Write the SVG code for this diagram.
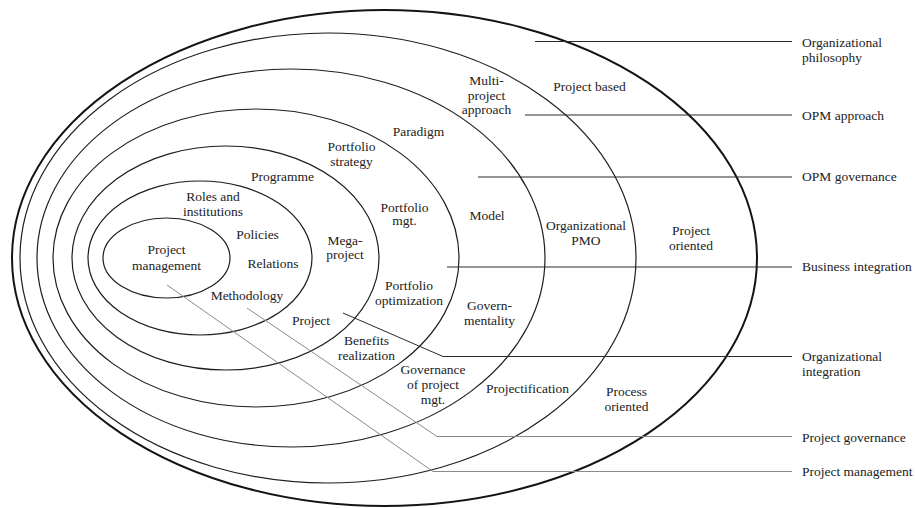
<svg xmlns="http://www.w3.org/2000/svg" width="915" height="508" viewBox="0 0 915 508">
  <style>
    .ring { fill: none; stroke: #1e1e1e; stroke-width: 1.2; }
    .ring-outer { fill: none; stroke: #141414; stroke-width: 2; }
    text { font-family: "Liberation Serif", "Times New Roman", serif; font-size: 13.5px; fill: #222; }
    .c { text-anchor: middle; }
    .lead { fill: none; stroke: #2a2a2a; stroke-width: 1; }
    .lead-light { fill: none; stroke: #8a8a8a; stroke-width: 1; }
  </style>
  <rect width="915" height="508" fill="#ffffff"/>

  <!-- Outermost ring: organizational philosophy -->
  <g id="ring-philosophy">
    <ellipse class="ring-outer" cx="384.5" cy="258" rx="372.5" ry="248"/>
    <text class="c" x="589.5" y="91">Project based</text>
    <text class="c" x="691" y="235">Project</text>
    <text class="c" x="691" y="250">oriented</text>
    <text class="c" x="626.5" y="396">Process</text>
    <text class="c" x="626.5" y="411">oriented</text>
  </g>

  <!-- OPM approach ring -->
  <g id="ring-opm-approach">
    <ellipse class="ring" cx="328" cy="258" rx="308" ry="225"/>
    <text class="c" x="486.5" y="85">Multi-</text>
    <text class="c" x="486.5" y="99.5">project</text>
    <text class="c" x="486.5" y="114">approach</text>
    <text class="c" x="586" y="229.5">Organizational</text>
    <text class="c" x="586" y="245">PMO</text>
    <text class="c" x="527.5" y="392.5">Projectification</text>
  </g>

  <!-- OPM governance ring -->
  <g id="ring-opm-governance">
    <ellipse class="ring" cx="291" cy="258" rx="254" ry="189"/>
    <text class="c" x="418.5" y="136">Paradigm</text>
    <text class="c" x="487" y="219.5">Model</text>
    <text class="c" x="489.5" y="309.5">Govern-</text>
    <text class="c" x="489.5" y="325">mentality</text>
  </g>

  <!-- Business integration ring -->
  <g id="ring-business-integration">
    <ellipse class="ring" cx="256" cy="258" rx="203" ry="149"/>
    <text class="c" x="351.5" y="151">Portfolio</text>
    <text class="c" x="351.5" y="166">strategy</text>
    <text class="c" x="404.5" y="211.5">Portfolio</text>
    <text class="c" x="404.5" y="225">mgt.</text>
    <text class="c" x="409" y="290">Portfolio</text>
    <text class="c" x="409" y="305">optimization</text>
    <text class="c" x="433" y="373.5">Governance</text>
    <text class="c" x="433" y="389">of project</text>
    <text class="c" x="433" y="403.5">mgt.</text>
  </g>

  <!-- Organizational integration ring -->
  <g id="ring-organizational-integration">
    <ellipse class="ring" cx="225.5" cy="258" rx="153.5" ry="112"/>
    <text class="c" x="282.5" y="180.5">Programme</text>
    <text class="c" x="345" y="244.5">Mega-</text>
    <text class="c" x="345" y="259">project</text>
    <text class="c" x="311" y="325">Project</text>
    <text class="c" x="366.5" y="345">Benefits</text>
    <text class="c" x="366.5" y="360">realization</text>
  </g>

  <!-- Project governance ring -->
  <g id="ring-project-governance">
    <ellipse class="ring" cx="200" cy="258" rx="112" ry="77"/>
    <text class="c" x="213" y="200.5">Roles and</text>
    <text class="c" x="213" y="216">institutions</text>
    <text class="c" x="257.5" y="239">Policies</text>
    <text class="c" x="273" y="267.5">Relations</text>
    <text class="c" x="247" y="300">Methodology</text>
  </g>

  <!-- Core: project management -->
  <g id="ring-project-management">
    <ellipse class="ring" cx="166.5" cy="258" rx="63.5" ry="40"/>
    <text class="c" x="166.5" y="254">Project</text>
    <text class="c" x="166.5" y="270">management</text>
  </g>

  <!-- Leader lines to the level labels -->
  <g id="connectors">
    <line class="lead" x1="535" y1="41.5" x2="792" y2="41.5"/>
    <line class="lead" x1="525" y1="115" x2="792" y2="115"/>
    <line class="lead" x1="478" y1="177" x2="792" y2="177"/>
    <line class="lead" x1="447" y1="267" x2="792" y2="267"/>
    <polyline class="lead" points="343,313 443,356.5 792,356.5"/>
    <polyline class="lead-light" points="247,308 437,436.5 792,436.5"/>
    <polyline class="lead-light" points="167,285 433,471.5 792,471.5"/>
  </g>

  <!-- Level labels -->
  <g id="label-organizational-philosophy">
    <text x="802" y="47">Organizational</text>
    <text x="802" y="62">philosophy</text>
  </g>
  <g id="label-opm-approach">
    <text x="802" y="119.5">OPM approach</text>
  </g>
  <g id="label-opm-governance">
    <text x="802" y="181">OPM governance</text>
  </g>
  <g id="label-business-integration">
    <text x="802" y="271">Business integration</text>
  </g>
  <g id="label-organizational-integration">
    <text x="802" y="361">Organizational</text>
    <text x="802" y="375.5">integration</text>
  </g>
  <g id="label-project-governance">
    <text x="802" y="441.5">Project governance</text>
  </g>
  <g id="label-project-management">
    <text x="802" y="476">Project management</text>
  </g>
</svg>
